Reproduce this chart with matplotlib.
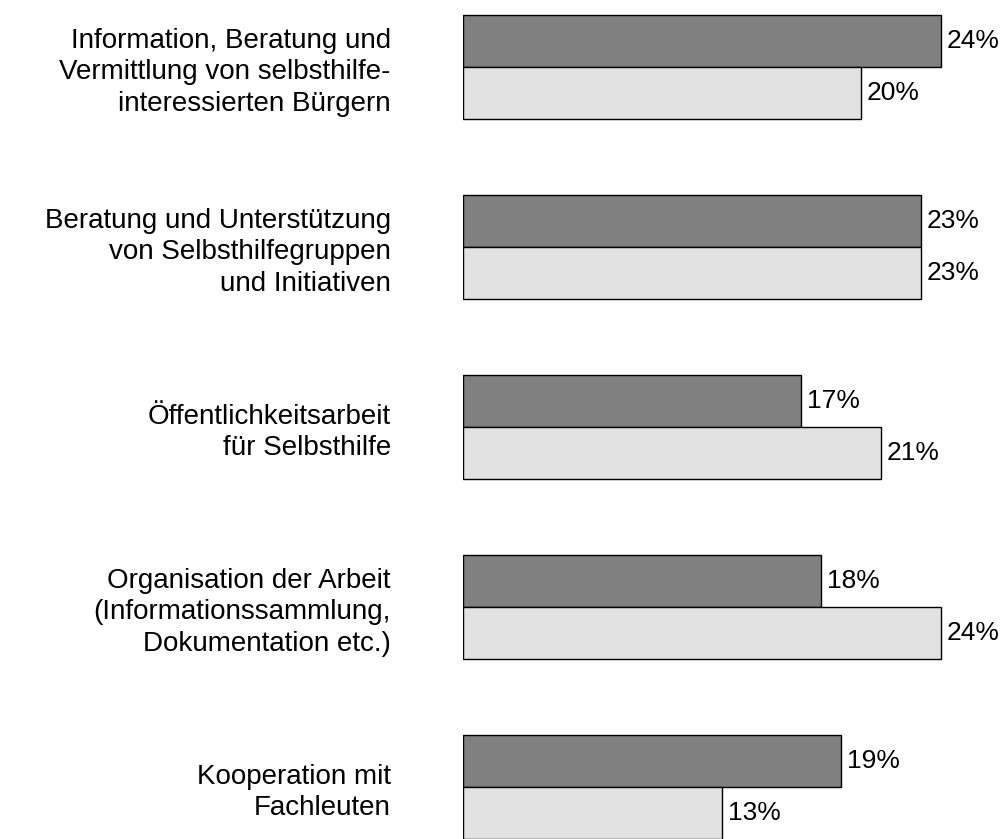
import matplotlib
matplotlib.use("Agg")
import matplotlib.pyplot as plt
import numpy as np

# ── data ──────────────────────────────────────────────────────────────────────
categories = [
    "Information, Beratung und\nVermittlung von selbsthilfe-\ninteressierten Bürgern",
    "Beratung und Unterstützung\nvon Selbsthilfegruppen\nund Initiativen",
    "Öffentlichkeitsarbeit\nfür Selbsthilfe",
    "Organisation der Arbeit\n(Informationssammlung,\nDokumentation etc.)",
    "Kooperation mit\nFachleuten",
]
series_a = [24, 23, 17, 18, 19]   # dark bars
series_b = [20, 23, 21, 24, 13]   # light bars

plt.rcParams["font.family"] = ["Liberation Sans", "DejaVu Sans"]

W, H = 1005, 839
STEP, TOP = 180, 66.5   # px between groups, px of first group centre
fig = plt.figure(figsize=(W / 100, H / 100), dpi=100)
ax = fig.add_axes([463 / W, 0, (1000 - 463) / W, 1])

pos = np.arange(len(categories))
bh = 52 / STEP
ax.barh(pos - bh / 2, series_a, height=bh, color="#808080", edgecolor="black", linewidth=1)
ax.barh(pos + bh / 2, series_b, height=bh, color="#e2e2e2", edgecolor="black", linewidth=1)

for p, a, b in zip(pos, series_a, series_b):
    ax.text(a + 0.3, p - bh / 2, f"{a}%", va="center", ha="left", fontsize=19)
    ax.text(b + 0.3, p + bh / 2, f"{b}%", va="center", ha="left", fontsize=19)

ax.set_xlim(0, (1000 - 463) / 19.9)
ax.set_ylim((H - TOP) / STEP, -TOP / STEP)
ax.set_yticks(pos)
ax.set_yticklabels(categories, fontsize=20, multialignment="right", linespacing=1.28)
ax.tick_params(axis="y", length=0, pad=52)
ax.set_xticks([])
for s in ax.spines.values():
    s.set_visible(False)

fig.savefig("out.png", dpi=100)
